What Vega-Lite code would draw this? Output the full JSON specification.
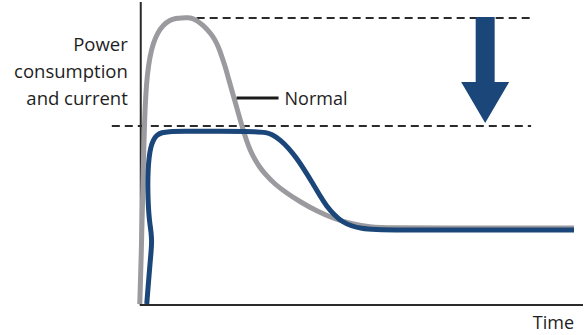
{
  "$schema": "https://vega.github.io/schema/vega-lite/v6.json",
  "width": 584,
  "height": 335,
  "autosize": {"type": "fit", "contains": "padding"},
  "padding": 0,
  "background": "white",
  "config": {"view": {"stroke": null}},
  "datasets": {
    "gray": [
      {"i": 0, "t": -1, "p": 1},
      {"i": 1, "t": 0.5, "p": 50},
      {"i": 2, "t": 1.7, "p": 100},
      {"i": 3, "t": 2.8, "p": 150},
      {"i": 4, "t": 3.8, "p": 185},
      {"i": 5, "t": 5, "p": 210},
      {"i": 6, "t": 6.5, "p": 230},
      {"i": 7, "t": 9, "p": 248},
      {"i": 8, "t": 12.5, "p": 262},
      {"i": 9, "t": 16.8, "p": 272},
      {"i": 10, "t": 22.4, "p": 280},
      {"i": 11, "t": 29.4, "p": 285},
      {"i": 12, "t": 35, "p": 286.6},
      {"i": 13, "t": 41, "p": 287.2},
      {"i": 14, "t": 47, "p": 287.3},
      {"i": 15, "t": 52, "p": 286.8},
      {"i": 16, "t": 57, "p": 284},
      {"i": 17, "t": 62, "p": 280},
      {"i": 18, "t": 67, "p": 275},
      {"i": 19, "t": 72, "p": 269},
      {"i": 20, "t": 76, "p": 262},
      {"i": 21, "t": 79, "p": 255},
      {"i": 22, "t": 82, "p": 246},
      {"i": 23, "t": 85, "p": 237},
      {"i": 24, "t": 88, "p": 226},
      {"i": 25, "t": 92, "p": 212},
      {"i": 26, "t": 96, "p": 198},
      {"i": 27, "t": 101, "p": 180},
      {"i": 28, "t": 106, "p": 164},
      {"i": 29, "t": 110, "p": 154},
      {"i": 30, "t": 114, "p": 146},
      {"i": 31, "t": 119, "p": 138},
      {"i": 32, "t": 124, "p": 131.5},
      {"i": 33, "t": 134, "p": 121},
      {"i": 34, "t": 146, "p": 112},
      {"i": 35, "t": 160, "p": 103},
      {"i": 36, "t": 176, "p": 94},
      {"i": 37, "t": 194, "p": 86},
      {"i": 38, "t": 212, "p": 81},
      {"i": 39, "t": 229, "p": 78},
      {"i": 40, "t": 249, "p": 77},
      {"i": 41, "t": 309, "p": 77},
      {"i": 42, "t": 369, "p": 77},
      {"i": 43, "t": 434, "p": 77}
    ],
    "blue": [
      {"i": 0, "t": 6, "p": 1},
      {"i": 1, "t": 7.5, "p": 20},
      {"i": 2, "t": 9, "p": 38},
      {"i": 3, "t": 10.5, "p": 55},
      {"i": 4, "t": 11, "p": 63},
      {"i": 5, "t": 10.5, "p": 72},
      {"i": 6, "t": 9, "p": 82},
      {"i": 7, "t": 8, "p": 92},
      {"i": 8, "t": 7.3, "p": 105},
      {"i": 9, "t": 7, "p": 120},
      {"i": 10, "t": 7.3, "p": 135},
      {"i": 11, "t": 8.3, "p": 148},
      {"i": 12, "t": 10, "p": 158},
      {"i": 13, "t": 12.5, "p": 165},
      {"i": 14, "t": 16, "p": 170},
      {"i": 15, "t": 21, "p": 172.5},
      {"i": 16, "t": 28, "p": 173.5},
      {"i": 17, "t": 40, "p": 173.7},
      {"i": 18, "t": 80, "p": 173.7},
      {"i": 19, "t": 119, "p": 173.5},
      {"i": 20, "t": 125, "p": 172.5},
      {"i": 21, "t": 131, "p": 171},
      {"i": 22, "t": 140, "p": 165},
      {"i": 23, "t": 148, "p": 157},
      {"i": 24, "t": 156, "p": 147},
      {"i": 25, "t": 164, "p": 135},
      {"i": 26, "t": 172, "p": 122},
      {"i": 27, "t": 179, "p": 110},
      {"i": 28, "t": 186, "p": 99},
      {"i": 29, "t": 194, "p": 90},
      {"i": 30, "t": 202, "p": 83},
      {"i": 31, "t": 211, "p": 79},
      {"i": 32, "t": 221, "p": 76.5},
      {"i": 33, "t": 234, "p": 75.5},
      {"i": 34, "t": 259, "p": 75},
      {"i": 35, "t": 319, "p": 75},
      {"i": 36, "t": 379, "p": 75},
      {"i": 37, "t": 434, "p": 75}
    ]
  },
  "layer": [
    {
      "data": {"values": [
        {"t": 0, "p": 303, "t2": 0, "p2": 0},
        {"t": -1, "p": 0, "t2": 443, "p2": 0}
      ]},
      "mark": {"type": "rule", "stroke": "#2b2b2b", "strokeWidth": 2},
      "encoding": {
        "x": {"field": "t", "type": "quantitative", "scale": {"domain": [-141, 443], "nice": false, "zero": false}, "axis": null},
        "y": {"field": "p", "type": "quantitative", "scale": {"domain": [-30, 305], "nice": false, "zero": false}, "axis": null},
        "x2": {"field": "t2"},
        "y2": {"field": "p2"}
      }
    },
    {
      "data": {"values": [
        {"t": 56, "p": 287, "t2": 391},
        {"t": -29, "p": 179, "t2": 391}
      ]},
      "mark": {"type": "rule", "stroke": "#2b2b2b", "strokeWidth": 2, "strokeDash": [8, 5]},
      "encoding": {
        "x": {"field": "t", "type": "quantitative", "scale": {"domain": [-141, 443], "nice": false, "zero": false}, "axis": null},
        "y": {"field": "p", "type": "quantitative", "scale": {"domain": [-30, 305], "nice": false, "zero": false}, "axis": null},
        "x2": {"field": "t2"}
      }
    },
    {
      "data": {"name": "gray"},
      "mark": {"type": "line", "stroke": "#9b9b9f", "strokeWidth": 5, "interpolate": "basis", "strokeCap": "butt"},
      "encoding": {
        "x": {"field": "t", "type": "quantitative", "scale": {"domain": [-141, 443], "nice": false, "zero": false}, "axis": null},
        "y": {"field": "p", "type": "quantitative", "scale": {"domain": [-30, 305], "nice": false, "zero": false}, "axis": null},
        "order": {"field": "i", "type": "quantitative"}
      }
    },
    {
      "data": {"name": "blue"},
      "mark": {"type": "line", "stroke": "#1b4679", "strokeWidth": 5, "interpolate": "basis", "strokeCap": "butt"},
      "encoding": {
        "x": {"field": "t", "type": "quantitative", "scale": {"domain": [-141, 443], "nice": false, "zero": false}, "axis": null},
        "y": {"field": "p", "type": "quantitative", "scale": {"domain": [-30, 305], "nice": false, "zero": false}, "axis": null},
        "order": {"field": "i", "type": "quantitative"}
      }
    },
    {
      "data": {"values": [{"t": 96, "p": 207, "t2": 138}]},
      "mark": {"type": "rule", "stroke": "#1a1a1a", "strokeWidth": 3},
      "encoding": {
        "x": {"field": "t", "type": "quantitative", "scale": {"domain": [-141, 443], "nice": false, "zero": false}, "axis": null},
        "y": {"field": "p", "type": "quantitative", "scale": {"domain": [-30, 305], "nice": false, "zero": false}, "axis": null},
        "x2": {"field": "t2"}
      }
    },
    {
      "data": {"values": [{"t": 345, "p": 235}]},
      "mark": {"type": "point", "filled": true, "fill": "#1b4679", "opacity": 1, "strokeWidth": 0, "size": 11236,
        "shape": "M-0.179,-1 L0.179,-1 L0.179,0.226 L0.453,0.226 L0,1 L-0.453,0.226 L-0.179,0.226 Z"},
      "encoding": {
        "x": {"field": "t", "type": "quantitative", "scale": {"domain": [-141, 443], "nice": false, "zero": false}, "axis": null},
        "y": {"field": "p", "type": "quantitative", "scale": {"domain": [-30, 305], "nice": false, "zero": false}, "axis": null}
      }
    },
    {
      "data": {"values": [
        {"t": 144, "p": 200, "label": "Normal", "align": "left"},
        {"t": 434, "p": -24, "label": "Time", "align": "right"}
      ]},
      "mark": {"type": "text", "font": "Open Sans", "fontSize": 18, "color": "#1e1e1e", "baseline": "alphabetic", "align": {"expr": "datum.align"}},
      "encoding": {
        "x": {"field": "t", "type": "quantitative", "scale": {"domain": [-141, 443], "nice": false, "zero": false}, "axis": null},
        "y": {"field": "p", "type": "quantitative", "scale": {"domain": [-30, 305], "nice": false, "zero": false}, "axis": null},
        "text": {"field": "label"}
      }
    },
    {
      "data": {"values": [{"t": -13, "p": 254, "label": ["Power", "consumption", "and current"]}]},
      "mark": {"type": "text", "font": "Open Sans", "fontSize": 18.5, "color": "#1e1e1e", "baseline": "alphabetic", "align": "right", "lineHeight": 27},
      "encoding": {
        "x": {"field": "t", "type": "quantitative", "scale": {"domain": [-141, 443], "nice": false, "zero": false}, "axis": null},
        "y": {"field": "p", "type": "quantitative", "scale": {"domain": [-30, 305], "nice": false, "zero": false}, "axis": null},
        "text": {"field": "label"}
      }
    }
  ]
}
